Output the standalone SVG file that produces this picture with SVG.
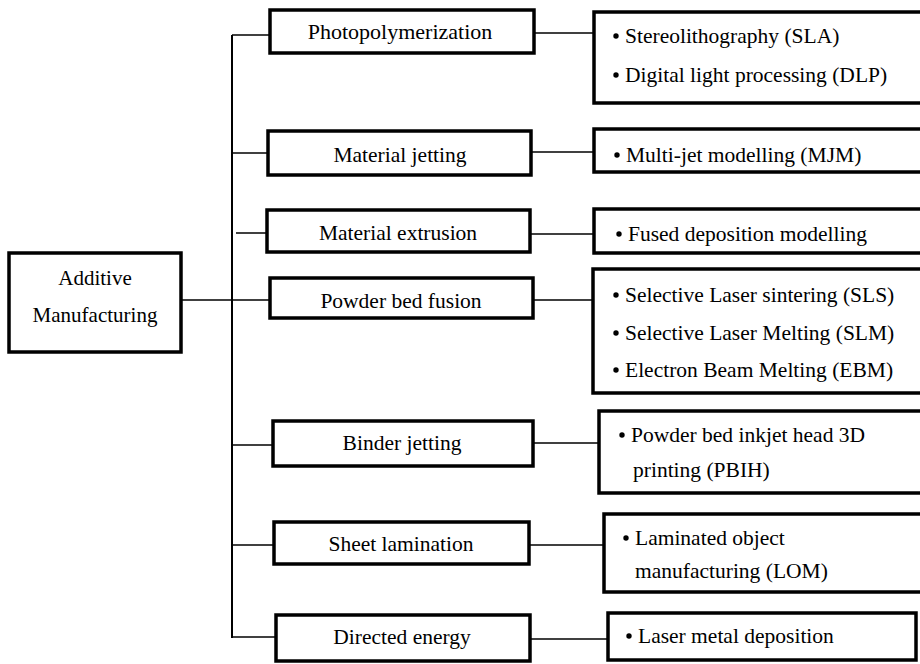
<svg xmlns="http://www.w3.org/2000/svg" width="920" height="664" viewBox="0 0 920 664">
<rect width="920" height="664" fill="#fff"/>
<g id="connectors" stroke="#000" stroke-width="1.5" fill="none">
<line x1="232" y1="35" x2="232" y2="638" stroke-width="2"/>
<line x1="232" y1="35" x2="270" y2="35"/>
<line x1="232" y1="153" x2="268" y2="153"/>
<line x1="236" y1="233" x2="267" y2="233"/>
<line x1="181" y1="300" x2="270" y2="300"/>
<line x1="232" y1="445" x2="273" y2="445"/>
<line x1="232" y1="545" x2="274" y2="545"/>
<line x1="232" y1="637" x2="276" y2="637"/>
<line x1="534" y1="33" x2="594" y2="33"/>
<line x1="531" y1="152" x2="594" y2="152"/>
<line x1="530" y1="234" x2="594" y2="234"/>
<line x1="533" y1="300" x2="593" y2="300"/>
<line x1="533" y1="443" x2="599" y2="443"/>
<line x1="529" y1="545" x2="604" y2="545"/>
<line x1="530" y1="639" x2="608" y2="639"/>
</g>
<g id="nodes" font-family="Liberation Serif" font-size="21.5" fill="#000">
<g id="additive">
<rect x="9" y="253" width="172" height="99" fill="#fff" stroke="#000" stroke-width="3.5"/>
<text x="95" y="285" font-size="21" text-anchor="middle">Additive</text>
<text x="95" y="322" font-size="21" text-anchor="middle">Manufacturing</text>
</g>
<g id="photopolymerization">
<rect x="270" y="10" width="264" height="43" fill="#fff" stroke="#000" stroke-width="3.5"/>
<text x="400" y="39" font-size="22" text-anchor="middle">Photopolymerization</text>
</g>
<g id="material-jetting">
<rect x="268" y="131" width="263" height="44" fill="#fff" stroke="#000" stroke-width="3.5"/>
<text x="400" y="162" text-anchor="middle">Material jetting</text>
</g>
<g id="material-extrusion">
<rect x="267" y="210" width="263" height="42" fill="#fff" stroke="#000" stroke-width="3.5"/>
<text x="398" y="240" text-anchor="middle">Material extrusion</text>
</g>
<g id="powder-bed-fusion">
<rect x="270" y="278" width="263" height="40" fill="#fff" stroke="#000" stroke-width="3.5"/>
<text x="401" y="308" text-anchor="middle">Powder bed fusion</text>
</g>
<g id="binder-jetting">
<rect x="273" y="421" width="260" height="45" fill="#fff" stroke="#000" stroke-width="3.5"/>
<text x="402" y="450" text-anchor="middle">Binder jetting</text>
</g>
<g id="sheet-lamination">
<rect x="274" y="522" width="255" height="42" fill="#fff" stroke="#000" stroke-width="3.5"/>
<text x="401" y="551" text-anchor="middle">Sheet lamination</text>
</g>
<g id="directed-energy">
<rect x="276" y="615" width="254" height="46" fill="#fff" stroke="#000" stroke-width="3.5"/>
<text x="402" y="644" text-anchor="middle">Directed energy</text>
</g>
<g id="photo-list">
<rect x="594" y="12" width="340" height="91" fill="#fff" stroke="#000" stroke-width="3.5"/>
<circle cx="616" cy="36" r="2.7"/>
<text x="625" y="43">Stereolithography (SLA)</text>
<circle cx="616" cy="75" r="2.7"/>
<text x="625" y="82">Digital light processing (DLP)</text>
</g>
<g id="jetting-list">
<rect x="594" y="129" width="340" height="43" fill="#fff" stroke="#000" stroke-width="3.5"/>
<circle cx="617" cy="155" r="2.7"/>
<text x="626" y="162">Multi-jet modelling (MJM)</text>
</g>
<g id="extrusion-list">
<rect x="594" y="209" width="340" height="44" fill="#fff" stroke="#000" stroke-width="3.5"/>
<circle cx="619" cy="234" r="2.7"/>
<text x="628" y="241">Fused deposition modelling</text>
</g>
<g id="powder-list">
<rect x="593" y="269" width="340" height="124" fill="#fff" stroke="#000" stroke-width="3.5"/>
<circle cx="616" cy="295" r="2.7"/>
<text x="625" y="302">Selective Laser sintering (SLS)</text>
<circle cx="616" cy="333" r="2.7"/>
<text x="625" y="340">Selective Laser Melting (SLM)</text>
<circle cx="616" cy="370" r="2.7"/>
<text x="625" y="377">Electron Beam Melting (EBM)</text>
</g>
<g id="binder-list">
<rect x="599" y="411" width="340" height="82" fill="#fff" stroke="#000" stroke-width="3.5"/>
<circle cx="622" cy="435" r="2.7"/>
<text x="631" y="442">Powder bed inkjet head 3D</text>
<text x="633" y="477">printing (PBIH)</text>
</g>
<g id="lamination-list">
<rect x="604" y="514" width="340" height="78" fill="#fff" stroke="#000" stroke-width="3.5"/>
<circle cx="626" cy="538" r="2.7"/>
<text x="635" y="545">Laminated object</text>
<text x="635" y="578">manufacturing (LOM)</text>
</g>
<g id="energy-list">
<rect x="608" y="613" width="308" height="47" fill="#fff" stroke="#000" stroke-width="3.5"/>
<circle cx="629" cy="636" r="2.7"/>
<text x="638" y="643">Laser metal deposition</text>
</g>
</g>
</svg>
